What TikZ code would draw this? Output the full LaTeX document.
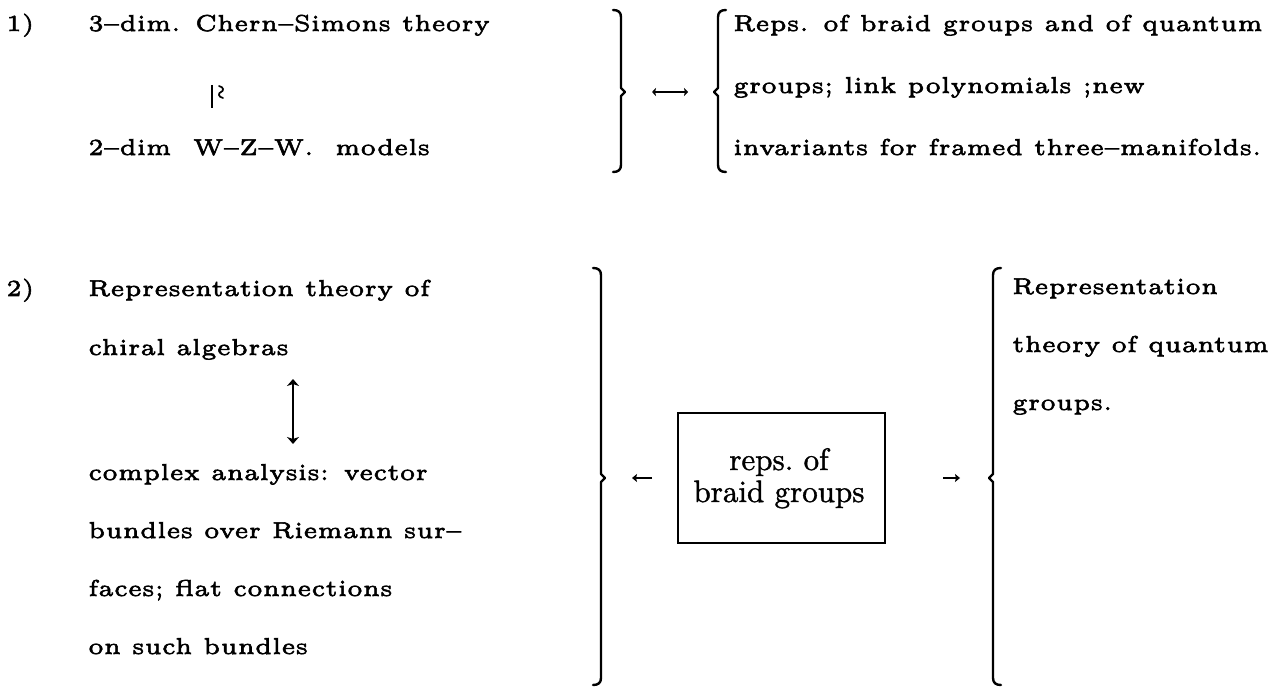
\documentclass[tikz,border=0pt]{standalone}
\usepackage{fontspec}
\newfontfamily\fivefont{lmroman5-regular.otf}[Ligatures=TeX,FakeBold=2.4]
\newfontfamily\tenfont{lmroman10-regular.otf}[Ligatures=TeX,FakeBold=1.2]
\usetikzlibrary{arrows.meta}
\newcommand\myRB[4]{\draw[brk] (#1-8,#2) .. controls (#1-3,#2) and (#1,#2+2) .. (#1,#2+7) -- (#1,#3-4) -- (#1+4,#3) -- (#1,#3+4) -- (#1,#4-7) .. controls (#1,#4-2) and (#1-3,#4) .. (#1-8,#4);}
\newcommand\myLB[4]{\draw[brk] (#1+8,#2) .. controls (#1+3,#2) and (#1,#2+2) .. (#1,#2+7) -- (#1,#3-4) -- (#1-4,#3) -- (#1,#3+4) -- (#1,#4-7) .. controls (#1,#4-2) and (#1+3,#4) .. (#1+8,#4);}
\begin{document}
\begin{tikzpicture}[x=1pt,y=-1pt,
  txt/.style={anchor=base west,inner sep=0pt,font=\fivefont\fontsize{23}{27}\selectfont},
  brk/.style={line width=2.4pt,line join=round,line cap=round},
  arr/.style={line width=2pt},
  bigtip/.style={{Stealth[length=7pt,width=12pt,inset=2pt]}-{Stealth[length=7pt,width=12pt,inset=2pt]}},
  smalltip/.style={{Stealth[length=4pt,width=8pt,inset=1pt]}-{Stealth[length=4pt,width=8pt,inset=1pt]}},
  lefttip/.style={-{Stealth[length=5pt,width=8pt,inset=1pt]}}
]
\useasboundingbox (0,0) rectangle (1286,687);

% ---------- part 1 ----------
\node[txt] (n1) at (6,31) {1)};
\node[txt] (cs) at (88,31) {3–dim. Chern–Simons theory};
\node[txt] (wzw) at (88,155) {2–dim\ \ W–Z–W.\ \ models};
\coordinate (iso1) at (212,85);
\coordinate (iso2) at (212,108);
\draw[line width=2.6pt] (iso1) -- (iso2);
% the "wreath" sign beside the bar
\coordinate (wr) at (221,92);
\draw[line width=1.7pt,line cap=round] (219,86) .. controls (224,87) and (224,91) .. (221,92)
  .. controls (218,93) and (218,97) .. (223,98);

\node[txt] (r1a) at (733,31) {Reps. of braid groups and of quantum};
\node[txt] (r1b) at (733,93) {groups; link polynomials ;new};
\node[txt] (r1c) at (733,155) {invariants for framed three–manifolds.};

\myRB{621}{10}{92}{172}
\myLB{718}{10}{92}{172}
\coordinate (d1) at (652,92);
\coordinate (d2) at (688,92);
\draw[arr,smalltip] (d1) -- (d2);

% ---------- part 2 ----------
\node[txt] (n2) at (6,296) {2)};
\node[txt] (l1) at (88,296) {Representation theory of};
\node[txt] (l2) at (88,355) {chiral algebras};
\node[txt] (l3) at (88,480) {complex analysis: vector};
\node[txt] (l4) at (88,538) {bundles over Riemann sur–};
\node[txt] (l5) at (88,596) {faces; flat connections};
\node[txt] (l6) at (88,654) {on such bundles};
\coordinate (v1) at (293,379);
\coordinate (v2) at (293,444);
\draw[arr,bigtip] (v1) -- (v2);

\myRB{601}{268}{478}{685}
\coordinate (la) at (652,478);
\coordinate (lb) at (632,478);
\draw[arr,lefttip] (la) -- (lb);

\node[draw,line width=2pt,minimum width=207pt,minimum height=130pt,
  inner sep=0pt] (box) at (781.5,478) {};
\node[anchor=base,inner sep=0pt,font=\tenfont\fontsize{31}{31}\selectfont] (bt1) at (779,470) {reps.~of};
\node[anchor=base,inner sep=0pt,font=\tenfont\fontsize{31}{31}\selectfont] (bt2) at (779,502) {braid groups};

\coordinate (ra) at (943,478);
\coordinate (rb) at (960,478);
\draw[arr,lefttip] (ra) -- (rb);
\myLB{993}{268}{478}{685}

\node[txt] (q1) at (1012,294) {Representation};
\node[txt] (q2) at (1012,352) {theory of quantum};
\node[txt] (q3) at (1012,410) {groups.};
\end{tikzpicture}
\end{document}
